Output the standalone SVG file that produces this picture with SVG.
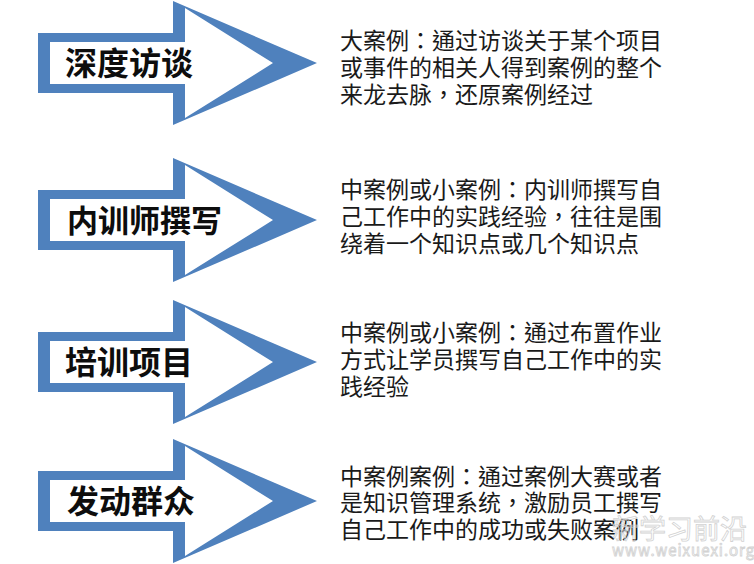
<svg xmlns="http://www.w3.org/2000/svg" width="754" height="564" viewBox="0 0 754 564" xmlns:xlink="http://www.w3.org/1999/xlink">
<style>
.lbl{font-family:"Noto Sans CJK SC","Noto Sans",sans-serif;font-weight:700;font-size:32px;fill:#0d0d0d}
.desc{font-family:"Noto Sans CJK TC","Noto Sans CJK SC",sans-serif;font-size:23px;fill:#1a1a1a}
.wm{font-family:"Noto Sans CJK SC","Noto Sans",sans-serif;fill:none;stroke:#d2d2d2;stroke-width:0.8}
</style>
<defs>
<g id="arrowShape">
<path d="M38,-30 H173 V-62 L317,0 L173,62 V30 H38 Z" fill="#4f81bd"/>
<path d="M50,-21 H185 V-55 L273,0 L185,55 V21 H50 Z" fill="#ffffff"/>
</g>
</defs>
<rect width="754" height="564" fill="#ffffff"/>
<g id="connectors"/>
<g id="node-1">
<use xlink:href="#arrowShape" href="#arrowShape" transform="translate(0,63)"/>
<text class="lbl" x="65" y="75">深度访谈</text>
</g>
<g id="node-2">
<use xlink:href="#arrowShape" href="#arrowShape" transform="translate(0,220)"/>
<text class="lbl" x="67" y="232" style="font-size:31px">内训师撰写</text>
</g>
<g id="node-3">
<use xlink:href="#arrowShape" href="#arrowShape" transform="translate(0,362)"/>
<text class="lbl" x="65" y="374">培训项目</text>
</g>
<g id="node-4">
<use xlink:href="#arrowShape" href="#arrowShape" transform="translate(0,501)"/>
<text class="lbl" x="67" y="513">发动群众</text>
</g>
<g id="desc-1">
<text class="desc" x="340" y="49">大案例：通过访谈关于某个项目</text>
<text class="desc" x="340" y="76">或事件的相关人得到案例的整个</text>
<text class="desc" x="340" y="103">来龙去脉，还原案例经过</text>
</g>
<g id="desc-2">
<text class="desc" x="340" y="198">中案例或小案例：内训师撰写自</text>
<text class="desc" x="340" y="225">己工作中的实践经验，往往是围</text>
<text class="desc" x="340" y="252">绕着一个知识点或几个知识点</text>
</g>
<g id="desc-3">
<text class="desc" x="340" y="341">中案例或小案例：通过布置作业</text>
<text class="desc" x="340" y="368">方式让学员撰写自己工作中的实</text>
<text class="desc" x="340" y="395">践经验</text>
</g>
<g id="desc-4">
<text class="desc" x="340" y="485">中案例案例：通过案例大赛或者</text>
<text class="desc" x="340" y="511">是知识管理系统，激励员工撰写</text>
<text class="desc" x="340" y="538">自己工作中的成功或失败案例</text>
</g>
<g id="watermark">
<text class="wm" x="612" y="539" style="font-size:27px">新学习前沿</text>
<text class="wm" x="612" y="556" style="font-size:15px;letter-spacing:1px">www.weixuexi.org</text>
</g>
</svg>
